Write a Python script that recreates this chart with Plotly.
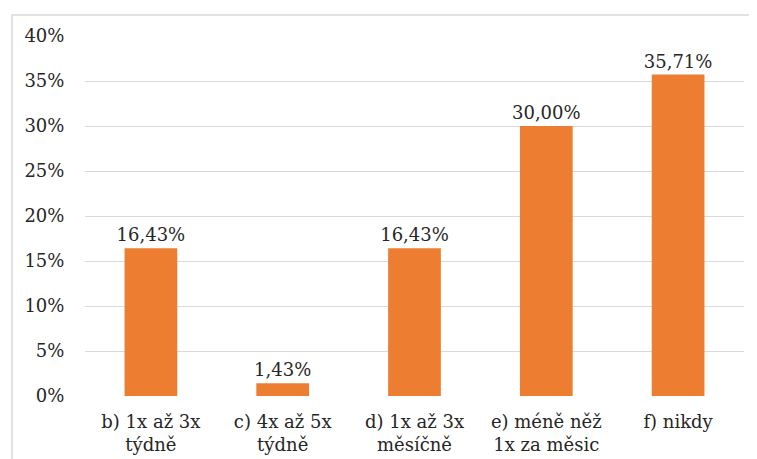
import plotly.graph_objects as go

categories = ["b) 1x až 3x<br>týdně", "c) 4x až 5x<br>týdně", "d) 1x až 3x<br>měsíčně",
              "e) méně něž<br>1x za měsic", "f) nikdy"]
values = [16.43, 1.43, 16.43, 30.00, 35.71]
labels = ["16,43%", "1,43%", "16,43%", "30,00%", "35,71%"]
tick_vals = [0, 5, 10, 15, 20, 25, 30, 35, 40]
tick_text = ["0%", "5%", "10%", "15%", "20%", "25%", "30%", "35%", "40%"]

OFF = 8  # page body margin
W, H = 757 - OFF, 459 - OFF
L, R, T, B = 85 - OFF, 13, 36 - OFF, 63
pw, ph = W - L - R, H - T - B
FONT = "DejaVu Serif"

fig = go.Figure(go.Bar(
    x=categories, y=values, text=labels, textposition="outside",
    constraintext="none",
    marker=dict(color="#ED7D31", line=dict(width=0)),
    textfont=dict(family=FONT, size=18, color="#262626"),
    cliponaxis=False,
))

fig.update_layout(
    width=W, height=H,
    margin=dict(l=L, r=R, t=T, b=B, autoexpand=False),
    paper_bgcolor="white", plot_bgcolor="white",
    bargap=0.6, showlegend=False,
    font=dict(family=FONT, size=18, color="#262626"),
    xaxis=dict(showgrid=False, showline=False, ticks="outside", ticklen=9,
               tickcolor="rgba(0,0,0,0)", tickfont=dict(family=FONT, size=18)),
    yaxis=dict(range=[0, 40], tickvals=tick_vals, ticktext=tick_text,
               showgrid=True, gridcolor="#D9D9D9", gridwidth=1.3,
               zeroline=False, showline=False,
               ticks="outside", ticklen=16, tickcolor="rgba(0,0,0,0)",
               tickfont=dict(family=FONT, size=18)),
    shapes=[dict(type="rect", xref="paper", yref="paper",
                 x0=(12 - OFF - L) / pw, x1=(W + 5 - L) / pw,
                 y0=-(H + 5 - T - ph) / ph, y1=1 + (T - (15 - OFF)) / ph,
                 line=dict(color="#D9D9D9", width=1.5), fillcolor="rgba(0,0,0,0)",
                 layer="below")],
)

fig.write_html("out.html")
